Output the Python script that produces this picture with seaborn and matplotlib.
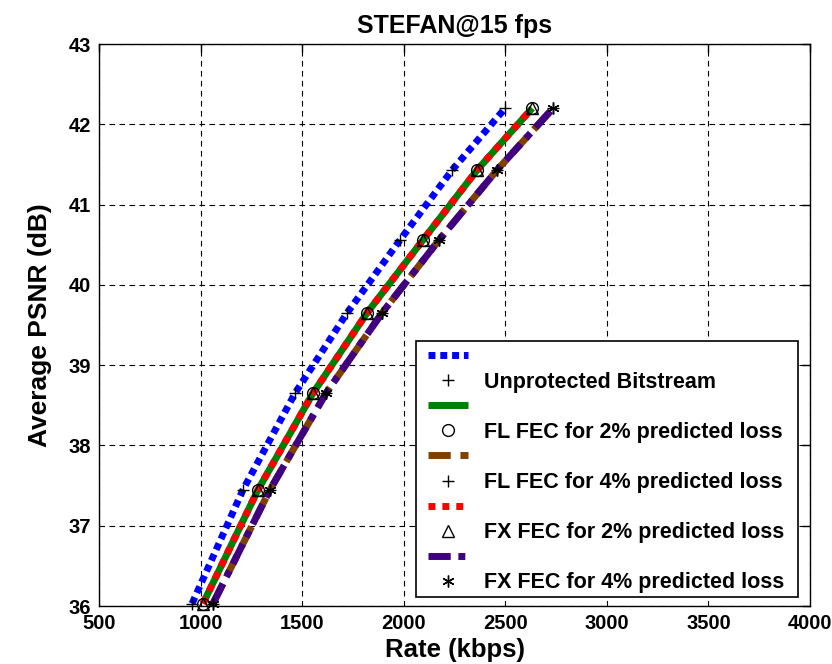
import matplotlib
matplotlib.use("Agg")
import matplotlib.pyplot as plt
from matplotlib.lines import Line2D
from matplotlib.patches import Rectangle
import seaborn as sns
import pandas as pd

# Average PSNR of the quality layers (dB)
psnr = [36.03, 37.45, 38.65, 39.65, 40.56, 41.43, 42.20]

# Rate needed for each layer (kbps)
rate_unprotected = [958, 1209, 1465, 1721, 1982, 2238, 2499]
rate_fl_2 = [1012, 1283, 1553, 1819, 2095, 2361, 2632]
rate_fl_4 = [1061, 1342, 1617, 1893, 2174, 2459, 2735]
rate_fx_2 = [1012, 1283, 1553, 1819, 2095, 2361, 2632]
rate_fx_4 = [1061, 1342, 1617, 1893, 2174, 2459, 2735]

labels = [
    "Unprotected Bitstream",
    "FL FEC for 2% predicted loss",
    "FL FEC for 4% predicted loss",
    "FX FEC for 2% predicted loss",
    "FX FEC for 4% predicted loss",
]

x_ticks = [500, 1000, 1500, 2000, 2500, 3000, 3500, 4000]
y_ticks = [36, 37, 38, 39, 40, 41, 42, 43]

sns.set_theme(style="white")
plt.rcParams["font.family"] = ["Liberation Sans", "DejaVu Sans"]
plt.rcParams["font.weight"] = "bold"
plt.rcParams["text.color"] = "black"
plt.rcParams["axes.labelcolor"] = "black"
plt.rcParams["xtick.color"] = "black"
plt.rcParams["ytick.color"] = "black"

fig = plt.figure(figsize=(8.32, 6.64), dpi=100)
ax = fig.add_axes([0.119, 0.0873, 0.8546, 0.8464])

LW = 5.0
ASTERISK = (6, 2, 0)
series = [
    (rate_unprotected, "#0000ff", (0, (1, 0.7)), "+", "full"),
    (rate_fl_2, "#008000", "-", "o", "none"),
    (rate_fl_4, "#7f4000", (0, (3.2, 1.4)), "+", "full"),
    (rate_fx_2, "#ff0000", (0, (1, 1)), "^", "none"),
    (rate_fx_4, "#400080", (0, (3.2, 1.1, 1.0, 1.1)), ASTERISK, "full"),
]

handles = []
legend_labels = []
for (rates, color, ls, marker, fill), label in zip(series, labels):
    df = pd.DataFrame({"rate": rates, "psnr": psnr})
    sns.lineplot(data=df, x="rate", y="psnr", sort=False, estimator=None,
                 color=color, linewidth=LW, linestyle=ls, ax=ax,
                 solid_capstyle="butt", dash_capstyle="butt")
    face = "none" if fill == "none" else "black"
    ax.plot(rates, psnr, linestyle="none", marker=marker, markersize=8.5,
            markerfacecolor=face, markeredgecolor="black",
            markeredgewidth=1.0, clip_on=False, zorder=5)
    ln = Line2D([], [], color=color, linewidth=LW, linestyle=ls,
                dash_capstyle="butt", solid_capstyle="butt")
    mk = Line2D([], [], linestyle="none", marker=marker, markersize=8.5,
                markerfacecolor=face, markeredgecolor="black",
                markeredgewidth=1.0)
    handles += [ln, mk]
    legend_labels += ["", label]

ax.set_xlim(500, 4000)
ax.set_ylim(36, 43)
ax.set_xticks(x_ticks)
ax.set_yticks(y_ticks)
ax.grid(True, color="black", linestyle=(0, (5, 4)), linewidth=0.8)
ax.tick_params(direction="in", length=6, width=1, top=True, right=True,
               labelsize=14.5, pad=6, colors="black")
for lab in ax.get_xticklabels() + ax.get_yticklabels():
    lab.set_fontweight("bold")
for sp in ax.spines.values():
    sp.set_color("black")
    sp.set_linewidth(1.0)

ax.set_xlabel("Rate (kbps)", fontsize=18.5, fontweight="bold", labelpad=3)
ax.set_ylabel("Average PSNR (dB)", fontsize=19, fontweight="bold", labelpad=12)
ax.set_title("STEFAN@15 fps", fontsize=18, fontweight="bold", pad=8)

# Legend box drawn as a separate white panel with a black border
ax.add_patch(Rectangle((0.4459, 0.016), 0.5371, 0.4555, transform=ax.transAxes,
                       facecolor="white", edgecolor="black", linewidth=1.2,
                       zorder=6))
leg = ax.legend(handles, legend_labels, loc="upper left",
                bbox_to_anchor=(0.4627, 0.4615), borderaxespad=0,
                frameon=False, prop={"size": 15.5, "weight": "bold"},
                handlelength=1.85, handletextpad=0.75, labelspacing=0.19,
                borderpad=0.0)
leg.set_zorder(7)

fig.savefig("out.png", dpi=100)
